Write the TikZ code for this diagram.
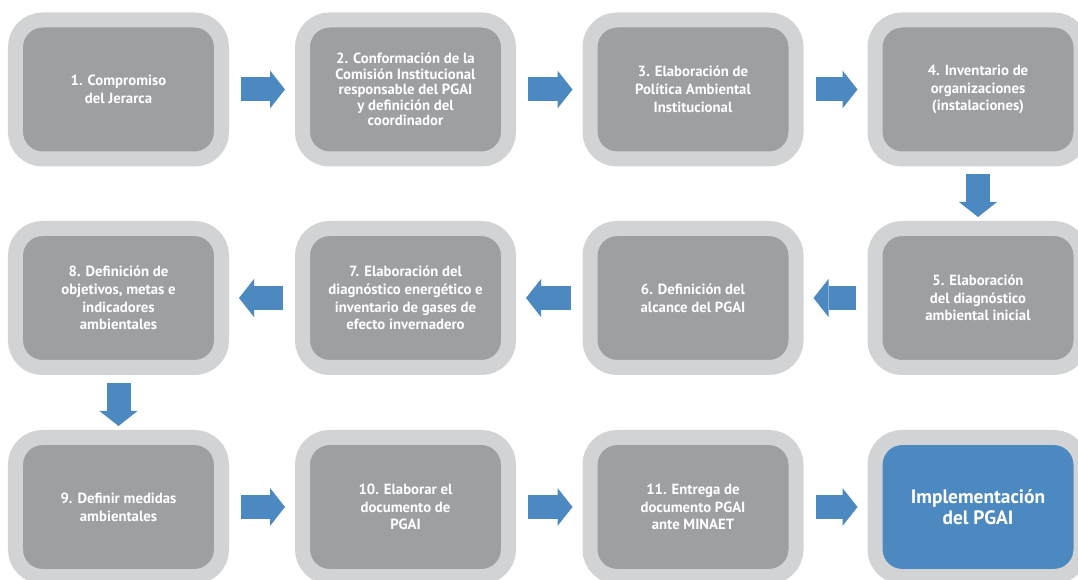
\documentclass[tikz,border=0pt]{standalone}
\usepackage{fontspec}
\setmainfont{PT Sans}
\definecolor{ringgray}{RGB}{209, 211, 212}
\definecolor{boxgray}{RGB}{157, 159, 162}
\definecolor{flowblue}{RGB}{76, 137, 192}
\usetikzlibrary{arrows.meta}

\begin{document}
\begin{tikzpicture}[x=0.25mm, y=-0.25mm,
  stepbox/.style={draw=ringgray, fill=boxgray, line width=3.75mm, rounded corners=6.75mm,
    minimum width=51.5mm, minimum height=34.75mm, inner sep=0pt, align=center,
    text=white, font=\fontsize{10.5}{12.6}\selectfont\bfseries},
  finalbox/.style={stepbox, fill=flowblue, font=\fontsize{13.8}{15}\selectfont\bfseries},
  flowarrow/.style={draw=flowblue, line width=6mm,
    -{Triangle[length=3.75mm, width=9.5mm, line width=0pt]},
    shorten <=3mm, shorten >=2.5mm},
  downarrow/.style={flowarrow, shorten <=2mm, shorten >=1mm}]

  % Frame (boxes on the right and bottom are cut off)
  \fill[white] (0, 0) rectangle (1078, 580);
  \path[use as bounding box, clip] (0, 0) rectangle (1078, 580);

  % Row 1
  \node[stepbox] (s1) at (118.5, 89.5) {1. Compromiso\\del Jerarca};
  \node[stepbox, font=\fontsize{10.5}{11}\selectfont\bfseries] (s2) at (405.5, 89.5)
    {2. Conformación de la\\Comisión Institucional\\responsable del PGAI\\y definición del\\coordinador};
  \node[stepbox] (s3) at (693, 89.5) {3. Elaboración de\\Política Ambiental\\Institucional};
  \node[stepbox] (s4) at (978, 89.5) {4. Inventario de\\organizaciones\\(instalaciones)};

  % Row 2 (right to left)
  \node[stepbox] (s5) at (978, 298) {5. Elaboración\\del diagnóstico\\ambiental inicial};
  \node[stepbox] (s6) at (693, 298) {6. Definición del\\alcance del PGAI};
  \node[stepbox] (s7) at (405.5, 298)
    {7. Elaboración del\\diagnóstico energético e\\inventario de gases de\\efecto invernadero};
  \node[stepbox] (s8) at (118.5, 298) {8. Definición de\\objetivos, metas e\\indicadores\\ambientales};

  % Row 3
  \node[stepbox] (s9) at (118.5, 507) {9. Definir medidas\\ambientales};
  \node[stepbox] (s10) at (405.5, 507) {10. Elaborar el\\documento de\\PGAI};
  \node[stepbox] (s11) at (693, 507) {11. Entrega de\\documento PGAI\\ante MINAET};
  \node[finalbox] (impl) at (978, 507) {Implementación\\del PGAI};

  % Arrows
  \draw[flowarrow] (s1) -- (s2);
  \draw[flowarrow] (s2) -- (s3);
  \draw[flowarrow] (s3) -- (s4);
  \draw[downarrow] (s4) -- (s5);
  \draw[flowarrow] (s5) -- (s6);
  \draw[flowarrow] (s6) -- (s7);
  \draw[flowarrow] (s7) -- (s8);
  \draw[downarrow] (s8) -- (s9);
  \draw[flowarrow] (s9) -- (s10);
  \draw[flowarrow] (s10) -- (s11);
  \draw[flowarrow] (s11) -- (impl);
\end{tikzpicture}
\end{document}
